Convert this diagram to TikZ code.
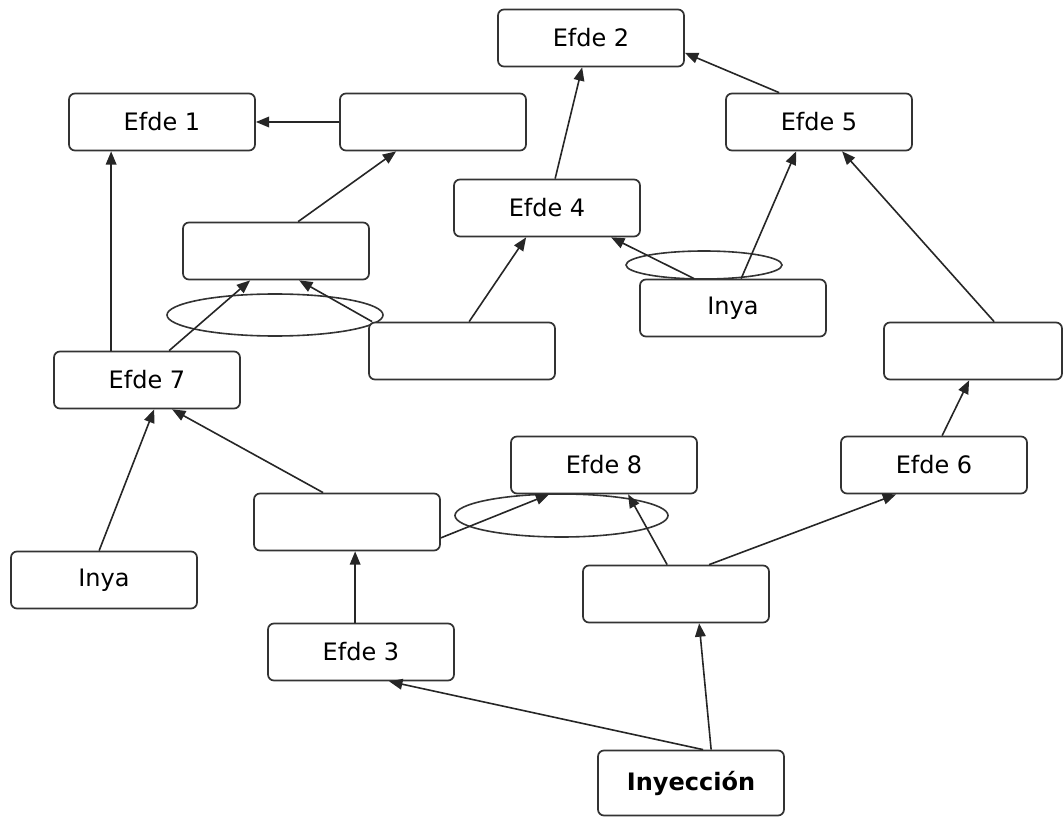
\documentclass[tikz,border=0pt]{standalone}
\usepackage{fontspec}
\setmainfont{DejaVu Sans}
\usetikzlibrary{arrows.meta,calc}
\begin{document}
\begin{tikzpicture}[x=0.75pt,y=-0.75pt,
  box/.style={draw=black!80,line width=1.3pt,fill=white,rounded corners=4.5pt,
    minimum width=139.5pt,minimum height=42.75pt,inner sep=0pt,
    font=\fontsize{18}{20}\selectfont},
  arr/.style={draw=black!85,line width=1.2pt,-{Triangle[length=10pt,width=8pt]}},
  loop/.style={draw=black!80,line width=1.2pt}]
\useasboundingbox (0,0) rectangle (1063,823);

% grouping ellipses (behind the boxes)
\draw[loop] (275,315) ellipse [x radius=108,y radius=21];
\draw[loop] (704,265) ellipse [x radius=78,y radius=14];
\draw[loop] (561.5,515.5) ellipse [x radius=106.5,y radius=21.5];

% boxes
\node[box] (e2)  at (591,38)  {Efde 2};
\node[box] (e1)  at (162,122) {Efde 1};
\node[box] (bT)  at (433,122) {};
\node[box] (e5)  at (819,122) {Efde 5};
\node[box] (e4)  at (547,208) {Efde 4};
\node[box] (bM)  at (276,251) {};
\node[box] (i2)  at (733,308) {Inya};
\node[box] (bC)  at (462,351) {};
\node[box,minimum width=133.5pt] (bR) at (973,351) {};
\node[box] (e7)  at (147,380) {Efde 7};
\node[box] (e8)  at (604,465) {Efde 8};
\node[box] (e6)  at (934,465) {Efde 6};
\node[box] (bL)  at (347,522) {};
\node[box] (i1)  at (104,580) {Inya};
\node[box] (bLR) at (676,594) {};
\node[box] (e3)  at (361,652) {Efde 3};
\node[box,minimum height=48.75pt,font=\fontsize{18}{20}\selectfont\bfseries] (inj) at (691,783) {Inyección};

% connectors
\draw[arr] ($(e7.north west)+(58,0)$)  -- ($(e1.south west)+(43,0)$);
\draw[arr] (bT.west) -- (e1.east);
\draw[arr] ($(bM.north west)+(116,0)$) -- ($(bT.south west)+(57,0)$);
\draw[arr] ($(e4.north west)+(102,0)$) -- ($(e2.south west)+(85,0)$);
\draw[arr] ($(e5.north west)+(54,0)$)  -- ($(e2.south east)+(0,-14.5)$);
\draw[arr] ($(i2.north west)+(102,0)$) -- ($(e5.south west)+(71,0)$);
\draw[arr] ($(i2.north west)+(55,0)$)  -- ($(e4.south west)+(158,0)$);
\draw[arr] ($(bC.north west)+(101,0)$) -- ($(e4.south west)+(73,0)$);
\draw[arr] ($(bR.north west)+(111,0)$) -- ($(e5.south west)+(117,0)$);
\draw[arr] ($(e7.north west)+(116,0)$) -- ($(bM.south west)+(68,0)$);
\draw[arr] ($(bC.north west)+(4,0)$)   -- ($(bM.south west)+(117,0)$);
\draw[arr] ($(i1.north west)+(89,0)$)  -- ($(e7.south west)+(101,0)$);
\draw[arr] ($(bL.north west)+(70,0)$)  -- ($(e7.south west)+(119,0)$);
\draw[arr] ($(bL.south east)+(0,-13.5)$) -- ($(e8.south west)+(39,0)$);
\draw[arr] ($(bLR.north west)+(85,0)$) -- ($(e8.south west)+(118,0)$);
\draw[arr] ($(bLR.north west)+(127,0)$) -- ($(e6.south west)+(56,0)$);
\draw[arr] ($(e6.north west)+(102,0)$) -- ($(bR.south west)+(86,0)$);
\draw[arr] ($(e3.north west)+(88,0)$)  -- ($(bL.south west)+(102,0)$);
\draw[arr] ($(inj.north west)+(114,0)$) -- ($(bLR.south west)+(117,0)$);
\draw[arr] ($(inj.north west)+(106,0)$) -- ($(e3.south west)+(122,0)$);
\end{tikzpicture}
\end{document}
